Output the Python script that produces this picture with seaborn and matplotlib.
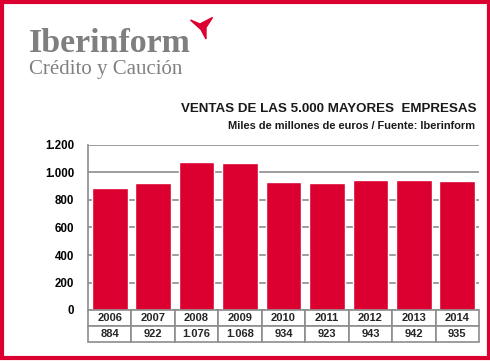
import matplotlib
matplotlib.use('Agg')
import matplotlib.pyplot as plt
import seaborn as sns
import pandas as pd
from matplotlib.patches import Rectangle, Polygon

# data
years = ['2006', '2007', '2008', '2009', '2010', '2011', '2012', '2013', '2014']
ventas = [884, 922, 1076, 1068, 934, 923, 943, 942, 935]
ventas_labels = ['884', '922', '1.076', '1.068', '934', '923', '943', '942', '935']
yticks = [0, 200, 400, 600, 800, 1000, 1200]
ytick_labels = ['0', '200', '400', '600', '800', '1.000', '1.200']

RED = '#DC0030'
GRID = '#8C8C8C'

sns.set_theme(style='white')
plt.rcParams['font.family'] = ['Liberation Sans', 'DejaVu Sans']

W, H = 490, 361
fig = plt.figure(figsize=(W / 100, H / 100), dpi=100)

def fx(px):
    return px / W

def fy(py):
    return 1 - py / H

# red frame
fig.patches.append(Rectangle((fx(1.5), fy(358)), fx(487), (358 - 1.5) / H,
                             transform=fig.transFigure, fill=False,
                             edgecolor=RED, linewidth=3))

# logo
fig.text(fx(29), fy(52), 'Iberinform', fontsize=24.5, fontweight='bold',
         color='#7F7F7F', family=['Liberation Serif'], ha='left', va='baseline')
fig.text(fx(29), fy(74), 'Crédito y Caución', fontsize=15,
         color='#808080', family=['Liberation Serif'], ha='left', va='baseline')
mark = [(190.5, 20), (200, 24), (212.5, 17.5), (206, 27.5), (206, 39), (201, 29.5)]
fig.patches.append(Polygon([(fx(x), fy(y)) for x, y in mark], closed=True,
                           transform=fig.transFigure, facecolor=RED, edgecolor=RED))

# titles
fig.text(fx(476), fy(112), 'VENTAS DE LAS 5.000 MAYORES  EMPRESAS', fontsize=9.6,
         fontweight='bold', color='#1a1a1a', ha='right', va='baseline')
fig.text(fx(475), fy(128.5), 'Miles de millones de euros / Fuente: Iberinform', fontsize=7.9,
         fontweight='bold', color='#1a1a1a', ha='right', va='baseline')

# bar chart
ax = fig.add_axes([fx(88), fy(310), fx(479) - fx(88), (310 - 145) / H])
df = pd.DataFrame({'year': years, 'ventas': ventas})
sns.barplot(data=df, x='year', y='ventas', color=RED, saturation=1, width=0.82, ax=ax, zorder=3)
ax.set_ylim(0, 1200)
ax.set_xlim(-0.5, len(years) - 0.5)
ax.set_yticks(yticks)
ax.set_yticklabels(ytick_labels, fontsize=8.3, fontweight='bold', color='black')
ax.tick_params(axis='y', length=0, pad=10)
ax.set_xticks([])
ax.set_xlabel('')
ax.set_ylabel('')
ax.grid(axis='y', color=GRID, linewidth=1.2, zorder=0)
ax.set_axisbelow(True)
for s in ['top', 'right', 'bottom']:
    ax.spines[s].set_visible(False)
ax.spines['left'].set_color(GRID)
ax.spines['left'].set_linewidth(1.2)

# data table below
tax = fig.add_axes([fx(88), fy(342), fx(479) - fx(88), (342 - 310) / H])
tax.axis('off')
tbl = tax.table(cellText=[years, ventas_labels], loc='center', cellLoc='center',
                bbox=[0, 0, 1, 1])
tbl.auto_set_font_size(False)
for (r, c), cell in tbl.get_celld().items():
    cell.set_edgecolor(GRID)
    cell.set_linewidth(1.2)
    cell.get_text().set_fontsize(8)
    cell.get_text().set_fontweight('bold')

fig.savefig('out.png', dpi=100)
